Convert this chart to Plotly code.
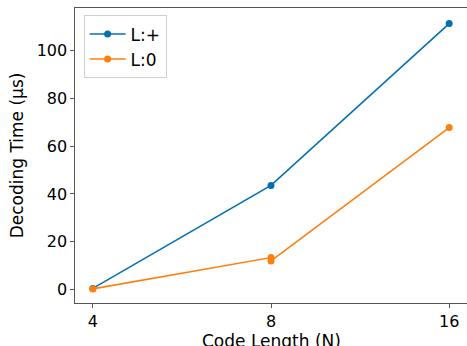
import math
import plotly.graph_objects as go

code_length_plus = [4, 8, 16]
time_plus = [0.5, 43.6, 111.3]
code_length_zero = [4, 8, 8, 16]
time_zero = [0.3, 13.4, 12.0, 67.8]
tick_vals = [4, 8, 16]
tick_text = ["4", "8", "16"]

BLUE = "#0570b0"
ORANGE = "#ff7f0e"
FONT = "DejaVu Sans"
AXC = "#555555"

L2 = math.log10(2)

fig = go.Figure()
fig.add_trace(go.Scatter(x=code_length_plus, y=time_plus, mode="lines+markers", name="L:+",
                         line=dict(color=BLUE, width=1.6), marker=dict(size=7, color=BLUE)))
fig.add_trace(go.Scatter(x=code_length_zero, y=time_zero, mode="lines+markers", name="L:0",
                         line=dict(color=ORANGE, width=1.6), marker=dict(size=7, color=ORANGE)))

fig.update_layout(
    width=467, height=346,
    margin=dict(l=75, r=0, t=8, b=43, pad=0),
    paper_bgcolor="white", plot_bgcolor="white",
    font=dict(family=FONT, size=16, color="black"),
    showlegend=True,
    legend=dict(x=0.022, y=0.975, xanchor="left", yanchor="top",
                bgcolor="rgba(255,255,255,0.8)", bordercolor="#d0d0d0", borderwidth=1,
                font=dict(family=FONT, size=17), tracegroupgap=0, itemwidth=36),
    xaxis=dict(type="log", range=[1.9 * L2, 4.1 * L2], tickvals=tick_vals, ticktext=tick_text,
               showgrid=False, zeroline=False, showline=True, mirror=True, linecolor=AXC, linewidth=1.2,
               ticks="outside", ticklen=3.5, tickcolor=AXC, automargin=False),
    yaxis=dict(range=[-5.6, 117.8], tickvals=[0, 20, 40, 60, 80, 100],
               showgrid=False, zeroline=False, showline=True, mirror=True, linecolor=AXC, linewidth=1.2,
               ticks="outside", ticklen=3.5, tickcolor=AXC, automargin=False,
               title=dict(text="Decoding Time (µs)", font=dict(size=17), standoff=8)),
    annotations=[dict(text="Code Length (N)", xref="paper", yref="paper", x=0.5, y=0,
                      xanchor="center", yanchor="top", yshift=-26, showarrow=False,
                      font=dict(family=FONT, size=17, color="black"))],
)

fig.write_html("out.html", config={"displayModeBar": False},
               post_script="document.body.style.margin='0';document.documentElement.style.overflow='hidden';")
